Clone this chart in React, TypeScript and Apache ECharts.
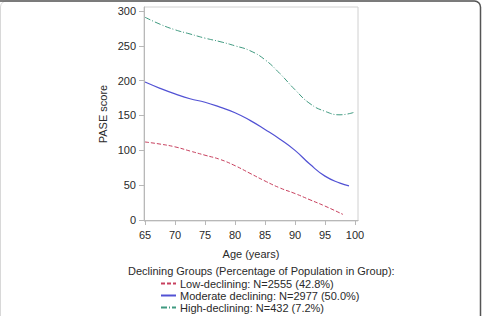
import React, { useEffect, useRef } from "react";
import * as echarts from "echarts";

const lowAges = [65, 67.5, 70, 72.5, 75, 77.5, 80, 82.5, 85, 87.5, 90, 92.5, 95, 98];
const lowValues = [112, 109, 105, 99, 93, 87, 78, 67, 56, 46, 38, 29, 20, 8];

const modAges = [65, 67.5, 70, 72.5, 75, 77.5, 80, 82.5, 85, 87.5, 90, 92.5, 95, 97.5, 99];
const modValues = [198, 189, 181, 174, 169, 162, 154, 143, 130, 116, 100, 80, 63, 53, 49];

const highAges = [65, 67.5, 70, 72.5, 75, 77.5, 80, 82.5, 85, 87.5, 90, 92.5, 95, 97.5, 100];
const highValues = [291, 281, 273, 267, 261, 256, 250, 243, 230, 210, 187, 167, 156, 151, 155];

const xTicks = [65, 70, 75, 80, 85, 90, 95, 100];
const yTicks = [0, 50, 100, 150, 200, 250, 300];

const seriesNames = [
  "Low-declining: N=2555 (42.8%)",
  "Moderate declining: N=2977 (50.0%)",
  "High-declining: N=432 (7.2%)",
];
const legendTitle = "Declining Groups (Percentage of Population in Group):";

const zip = (xs: number[], ys: number[]) => xs.map((x, i) => [x, ys[i]]);

export default function App() {
  const ref = useRef<HTMLDivElement>(null);
  useEffect(() => {
    if (!ref.current) return;
    const chart = echarts.init(ref.current, null, { renderer: "svg" });
    const font = "Liberation Sans, Arial, sans-serif";
    const axisColor = "#b8b8b8";
    const textColor = "#2a2a2a";
    chart.setOption({
      animation: false,
      textStyle: { fontFamily: font },
      title: {
        text: legendTitle,
        left: 128,
        top: 265,
        padding: 0,
        textStyle: { fontSize: 11, fontWeight: "normal", color: textColor, fontFamily: font },
      },
      legend: {
        orient: "vertical",
        left: 160,
        top: 278,
        padding: 0,
        itemWidth: 15,
        itemHeight: 8,
        itemGap: 1,
        itemStyle: { opacity: 0 },
        textStyle: { fontSize: 11, color: textColor, fontFamily: font, padding: [0, 0, 0, -1] },
        data: seriesNames,
      },
      grid: {
        left: 144,
        top: 7,
        width: 214,
        height: 214,
        show: true,
        borderColor: "#d0d0d0",
        borderWidth: 1,
        containLabel: false,
      },
      xAxis: {
        type: "value",
        min: 64.83,
        max: 100.5,
        name: "Age (years)",
        nameLocation: "middle",
        nameGap: 27,
        nameTextStyle: { fontSize: 11, color: textColor, fontFamily: font },
        axisLine: { show: true, lineStyle: { color: axisColor } },
        axisTick: { show: true, length: 5, lineStyle: { color: axisColor }, customValues: xTicks },
        axisLabel: { fontSize: 11, color: textColor, margin: 8, customValues: xTicks, fontFamily: font },
        splitLine: { show: false },
      },
      yAxis: {
        type: "value",
        min: -1.4,
        max: 305.7,
        name: "PASE score",
        nameLocation: "middle",
        nameGap: 36,
        nameTextStyle: { fontSize: 11, color: textColor, fontFamily: font },
        axisLine: { show: true, lineStyle: { color: axisColor } },
        axisTick: { show: true, length: 5, lineStyle: { color: axisColor }, customValues: yTicks },
        axisLabel: { fontSize: 11, color: textColor, margin: 8, customValues: yTicks, fontFamily: font },
        splitLine: { show: false },
      },
      graphic: [
        {
          type: "rect",
          silent: true,
          shape: { x: 0.5, y: 1, width: 480, height: 340, r: 6 },
          style: { fill: "none", stroke: "#d8d8d8", lineWidth: 1 },
        },
        {
          type: "rect",
          silent: true,
          shape: { x: -20, y: 1, width: 500.5, height: 340, r: 6 },
          style: { fill: "none", stroke: "#555", lineWidth: 1.5 },
        },
      ],
      series: [
        {
          name: seriesNames[0],
          type: "line",
          data: zip(lowAges, lowValues),
          smooth: 0.5,
          symbol: "none",
          lineStyle: { color: "#c8405e", width: 1, type: [4, 2] },
          itemStyle: { color: "#c8405e" },
        },
        {
          name: seriesNames[1],
          type: "line",
          data: zip(modAges, modValues),
          smooth: 0.5,
          symbol: "none",
          lineStyle: { color: "#5252d4", width: 1.2, type: "solid" },
          itemStyle: { color: "#5252d4" },
        },
        {
          name: seriesNames[2],
          type: "line",
          data: zip(highAges, highValues),
          smooth: 0.5,
          symbol: "none",
          lineStyle: { color: "#3f9a80", width: 1, type: [6, 2, 1, 2] },
          itemStyle: { color: "#3f9a80" },
        },
      ],
    });
    return () => chart.dispose();
  }, []);
  return (
    <div
      ref={ref}
      style={{ position: "fixed", left: 0, top: 0, width: 484, height: 316, background: "#fff" }}
    />
  );
}
